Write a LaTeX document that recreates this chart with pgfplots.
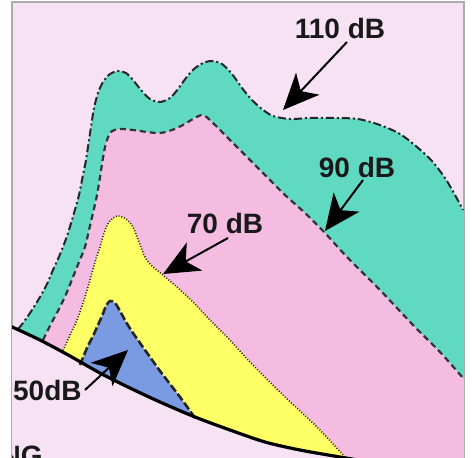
\documentclass[border=0pt]{standalone}
\usepackage{pgfplots}
\pgfplotsset{compat=1.18}
\usetikzlibrary{arrows.meta}
\usepackage{fontspec}
\setmainfont{Liberation Sans}

\definecolor{bgpink}{RGB}{247,226,244}
\definecolor{teal110}{RGB}{96,217,195}
\definecolor{pink90}{RGB}{245,188,226}
\definecolor{yel70}{RGB}{255,255,102}
\definecolor{blue50}{RGB}{122,155,225}

% contours, pixel coordinates (y downwards)
\def\cOneTen{(18,329)(23,323)(32,310)(40,297)(47,284)(53,270)(58,259)(63,247)(68,233)(72,220)(76,206)(79,195)(83,175)(86,160)(89,140)(91,127)(94,108)(98,93)(103,82)(110,74)(118,71)(126,73)(133,80)(141,90)(150,99)(160,102)(170,98)(178,89)(186,78)(194,69)(203,63)(212,61)(222,64)(232,74)(242,88)(252,100)(262,109)(273,116)(290,119)(310,118)(335,118)(358,119)(380,125)(400,134)(417,147)(432,161)(445,178)(455,195)(463,210)}
\def\cNinety{(43,340)(52,322)(60,307)(67,292)(73,277)(79,262)(85,247)(89,230)(93,213)(97,195)(100,177)(103,158)(106,143)(111,132)(120,129)(133,130)(147,132)(160,133)(172,130)(183,125)(193,119)(203,115)(213,123)(227,137)(247,157)(267,177)(285,195)(305,213)(325,233)(347,257)(380,290)(413,325)(440,352)(463,378)}
\def\cSeventy{(62,353)(70,335)(77,320)(84,300)(90,280)(95,262)(100,247)(104,233)(109,222)(117,216)(126,219)(133,227)(139,242)(145,257)(152,266)(163,275)(178,288)(193,302)(210,320)(230,340)(250,362)(283,395)(317,427)(345,457)}
\def\cFifty{(80,365)(87,348)(93,336)(98,325)(102,316)(106,306)(110,301)(115,303)(120,311)(126,322)(133,333)(140,343)(150,357)(160,371)(170,384)(180,397)(188,408)(195,418)}
\def\cGround{(10,326)(40,340)(70,356)(100,373)(130,388)(160,402)(195,417)(230,430)(265,442)(300,450)(340,457)(370,462)}

\begin{document}
\begin{tikzpicture}
\useasboundingbox (-6pt,0pt) rectangle (230pt,228.5pt);
\begin{axis}[
    at={(0,0)}, anchor=south west,
    scale only axis, width=226pt, height=227.5pt,
    xmin=12, xmax=464, ymin=2, ymax=457,
    y dir=reverse,
    xtick=\empty, ytick=\empty,
    axis line style={draw=gray!65, line width=1pt},
    axis background/.style={fill=bgpink},
]
% filled zones
\addplot[smooth, draw=none, fill=teal110] coordinates {(16,345) \cOneTen (475,225)(478,470)(16,470)};
\addplot[smooth, draw=none, fill=pink90] coordinates {(40,352) \cNinety (476,395)(476,472)(40,472)};
\addplot[smooth, draw=none, fill=yel70] coordinates {(58,362) \cSeventy (350,470)(58,470)};
\addplot[smooth, draw=none, fill=blue50] coordinates {(77,372) \cFifty (200,432)(80,432)};
% ground (below the line)
\addplot[smooth, draw=none, fill=bgpink] coordinates {\cGround (480,478)(0,478)(0,326)};

% contour lines
\addplot[smooth, black!85, line width=1pt,
  dash pattern=on 4pt off 1.5pt on 1pt off 1.5pt] coordinates {\cOneTen};
\addplot[smooth, black!80, line width=1.1pt,
  dash pattern=on 3pt off 2pt] coordinates {\cNinety};
\addplot[smooth, black!75!brown, line width=0.8pt,
  dash pattern=on 0.5pt off 0.9pt] coordinates {\cSeventy};
\addplot[smooth, black!85, line width=1.3pt,
  dash pattern=on 4pt off 1.5pt] coordinates {\cFifty};
\addplot[smooth, black, line width=1.6pt] coordinates {\cGround};

% labels and arrows
\tikzset{lbl/.style={font=\fontsize{14}{16}\selectfont\bfseries, text=black!90, inner sep=0pt},
         arr/.style={line width=1pt, -{Stealth[length=18pt, width=16pt, inset=5pt]}}}
\draw[arr] (axis cs:347,42) -- (axis cs:283,110);
\draw[arr] (axis cs:363,180) -- (axis cs:325,231);
\draw[arr] (axis cs:228,238) -- (axis cs:163,274);
\draw[arr] (axis cs:85,390) -- (axis cs:128,350);
\node[lbl, anchor=base] at (axis cs:340,38) {110 dB};
\node[lbl, anchor=base] at (axis cs:357,177) {90 dB};
\node[lbl, anchor=base] at (axis cs:225,233) {70 dB};
\node[lbl, anchor=base east] at (axis cs:82,400) {50dB};
\node[lbl, anchor=base east] at (axis cs:43,465) {NG};
\end{axis}
\end{tikzpicture}
\end{document}
